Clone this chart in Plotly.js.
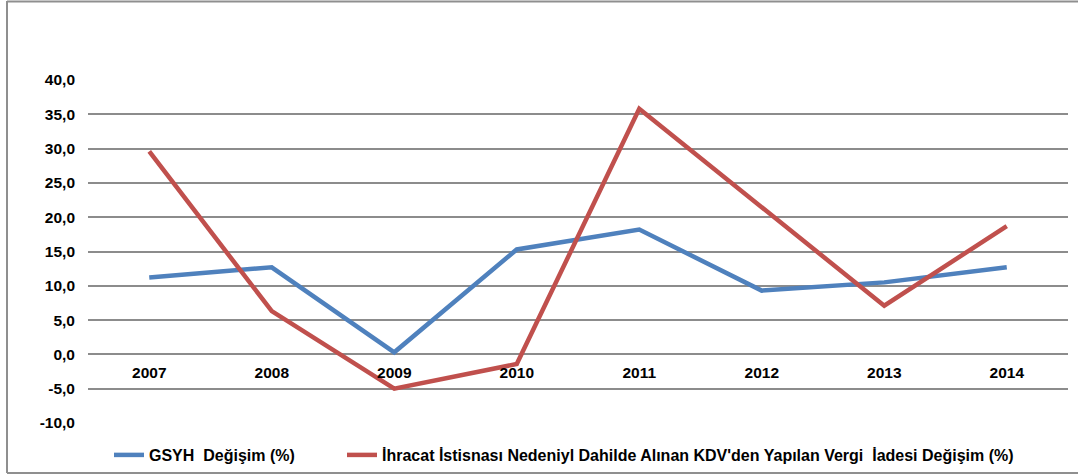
<!DOCTYPE html>
<html>
<head>
<meta charset="utf-8">
<script src="https://cdn.plot.ly/plotly-3.0.1.min.js"></script>
<style>
  html, body { margin: 0; padding: 0; background: #ffffff; }
  #chart { width: 1078px; height: 476px; }
</style>
</head>
<body>
<div id="chart"></div>
<script>
// ---- data ----
const years = ["2007", "2008", "2009", "2010", "2011", "2012", "2013", "2014"];
const gsyhName = "GSYH\u00A0 Değişim (%)";
const gsyhValues = [11.2, 12.7, 0.3, 15.3, 18.2, 9.3, 10.5, 12.7];
const kdvName = "İhracat İstisnası Nedeniyl Dahilde Alınan KDV'den Yapılan Vergi\u00A0 İadesi Değişim (%)";
const kdvValues = [29.6, 6.3, -5.0, -1.4, 35.8, 21.5, 7.1, 18.7];
const yTickVals = [-10, -5, 0, 5, 10, 15, 20, 25, 30, 35, 40];
const yTickText = ["-10,0", "-5,0", "0,0", "5,0", "10,0", "15,0", "20,0", "25,0", "30,0", "35,0", "40,0"];

const fontFam = "Liberation Sans, Arial, sans-serif";
const fs = 15.5;
const legendFs = 16;

const traces = [
  {
    x: years, y: gsyhValues, name: gsyhName, type: "scatter", mode: "lines",
    line: { color: "#4F81BD", width: 4.5 }, legend: "legend"
  },
  {
    x: years, y: kdvValues, name: kdvName, type: "scatter", mode: "lines",
    line: { color: "#C0504D", width: 4.5 }, legend: "legend2"
  }
];

// plot area pixel geometry: left 88, right 1068, top 80, bottom 423
const W = 1078, H = 476, L = 88, R = 10, T = 80, B = 53;
const pw = W - L - R, ph = H - T - B;
const px = p => (p - L) / pw;
const py = p => (H - B - p) / ph;

const legendBase = {
  orientation: "h",
  xref: "container", yref: "container",
  xanchor: "left",
  y: 1 - 455 / H, yanchor: "middle",
  bgcolor: "rgba(0,0,0,0)",
  font: { family: fontFam, size: legendFs, color: "#000000", weight: "bold" }
};

const layout = {
  width: W, height: H,
  margin: { l: L, r: R, t: T, b: B, pad: 0 },
  paper_bgcolor: "#ffffff",
  plot_bgcolor: "#ffffff",
  showlegend: true,
  font: { family: fontFam, size: fs, color: "#000000" },
  xaxis: {
    type: "category",
    range: [-0.5, 7.5],
    anchor: "free",
    position: 0.2,
    showline: false,
    showgrid: false,
    zeroline: false,
    ticks: "",
    ticklabelstandoff: 7,
    tickfont: { family: fontFam, size: fs, color: "#000000", weight: "bold" }
  },
  yaxis: {
    range: [-10, 40],
    tickvals: yTickVals,
    ticktext: yTickText,
    showline: false,
    zeroline: false,
    showgrid: true,
    gridcolor: "#8C8C8C",
    gridwidth: 2,
    ticks: "",
    ticklabelstandoff: 12,
    tickfont: { family: fontFam, size: fs, color: "#000000", weight: "bold" }
  },
  legend: Object.assign({}, legendBase, { x: 109 / W }),
  legend2: Object.assign({}, legendBase, { x: 342 / W }),
  shapes: [
    { type: "line", xref: "paper", yref: "paper", x0: px(7), x1: px(7), y0: py(1), y1: py(473),
      line: { color: "#8F8F8F", width: 2 } },
    { type: "line", xref: "paper", yref: "paper", x0: px(7), x1: px(1078), y0: py(1.5), y1: py(1.5),
      line: { color: "#8F8F8F", width: 2 } },
    { type: "line", xref: "paper", yref: "paper", x0: px(7), x1: px(1078), y0: py(473), y1: py(473),
      line: { color: "#8F8F8F", width: 2 } }
  ]
};

Plotly.newPlot("chart", traces, layout, { displayModeBar: false, staticPlot: true });
</script>
</body>
</html>
